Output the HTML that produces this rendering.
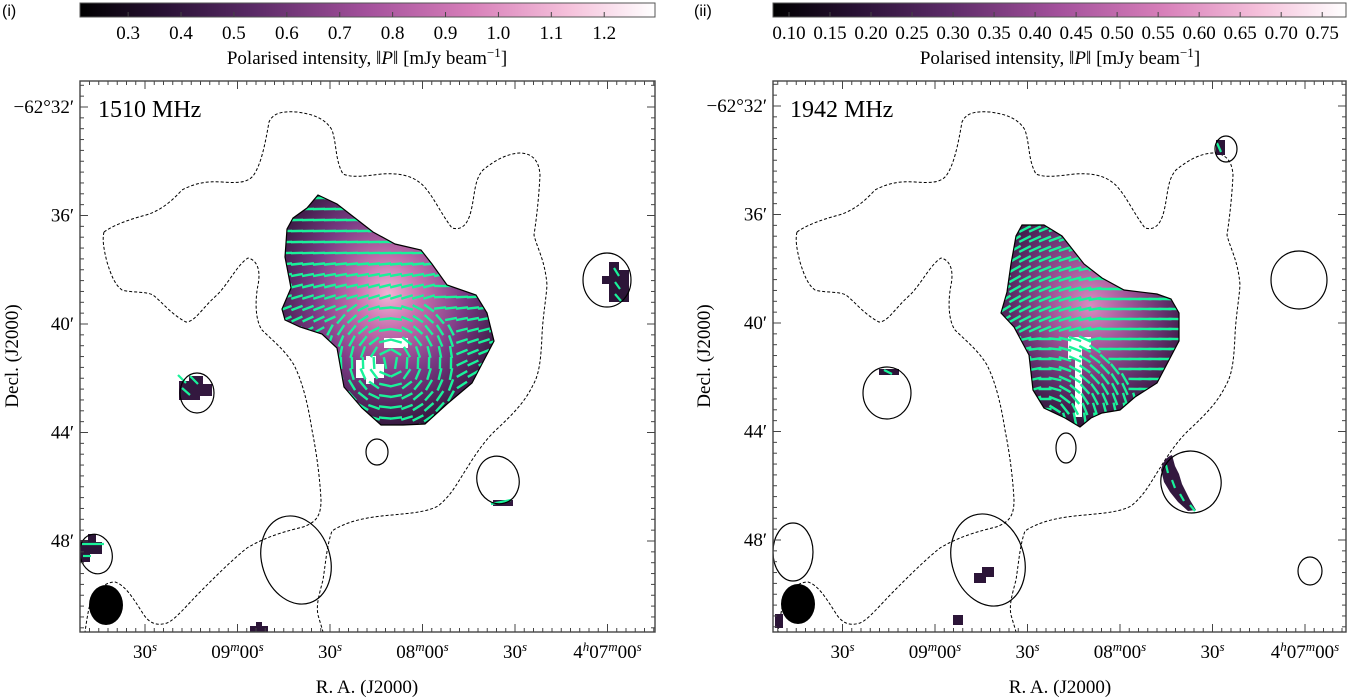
<!DOCTYPE html>
<html><head><meta charset="utf-8"><style>
html,body{margin:0;padding:0;background:#fff;}
svg{display:block;font-family:"Liberation Serif",serif;}
</style></head><body>
<svg id="fig" width="1349" height="699" viewBox="0 0 1349 699" xmlns="http://www.w3.org/2000/svg">
<defs>
<linearGradient id="cmap" x1="0" x2="1" y1="0" y2="0">
<stop offset="0" stop-color="#000000"/><stop offset="0.15" stop-color="#2a1236"/><stop offset="0.3" stop-color="#5a2a66"/><stop offset="0.5" stop-color="#a4519c"/><stop offset="0.68" stop-color="#d77fb9"/><stop offset="0.85" stop-color="#f5c1db"/><stop offset="1" stop-color="#ffffff"/>
</linearGradient>
<radialGradient id="blob1" cx="0.5" cy="0.43" r="0.6">
<stop offset="0" stop-color="#f2b3d5"/><stop offset="0.25" stop-color="#c870ae"/><stop offset="0.6" stop-color="#7a3a84"/><stop offset="1" stop-color="#2e1538"/>
</radialGradient>
<radialGradient id="blob2" cx="0.5" cy="0.4" r="0.6">
<stop offset="0" stop-color="#d98bc0"/><stop offset="0.35" stop-color="#a4569a"/><stop offset="0.7" stop-color="#62306c"/><stop offset="1" stop-color="#2e1538"/>
</radialGradient>
<clipPath id="ax1"><rect x="80" y="81" width="575" height="551"/></clipPath>
<clipPath id="ax2"><rect x="773" y="81" width="573" height="551"/></clipPath>
<clipPath id="b1c"><path id="b1p" d="M318,195 L337,204 L355,218 L373,232 L395,244 L421,250 L432,264 L447,285 L476,295 L487,313 L494,341 L483,362 L472,383 L447,404 L425,424 L403,425 L381,425 L362,408 L344,387 L337,348 L322,334 L300,327 L285,320 L282,309 L291,288 L285,257 L287,229 L293,218 L307,208 Z"/></clipPath>
<clipPath id="b2c"><path id="b2p" d="M1022,225 L1044,225 L1062,236 L1084,264 L1102,278 L1124,290 L1157,294 L1171,299 L1179,313 L1179,341 L1168,362 L1157,383 L1135,397 L1120,410 L1102,413 L1091,418 L1080,427 L1065,418 L1044,408 L1033,390 L1029,355 L1014,327 L1001,313 L1007,292 L1011,264 L1016,236 Z"/></clipPath>
</defs>

<text x="2" y="16" font-family="Liberation Sans, sans-serif" font-size="16">(i)</text>
<text x="694" y="16" font-family="Liberation Sans, sans-serif" font-size="16">(ii)</text>

<rect x="80" y="3" width="575" height="14" fill="url(#cmap)" stroke="#555" stroke-width="1"/>
<rect x="773" y="3" width="573" height="14" fill="url(#cmap)" stroke="#555" stroke-width="1"/>
<g id="cb1ticks"></g>
<g id="cb2ticks"></g>
<text x="367" y="64" font-size="19" text-anchor="middle">Polarised intensity, ‖<tspan font-style="italic">P</tspan>‖ [mJy beam<tspan dy="-7" font-size="13">−1</tspan><tspan dy="7">]</tspan></text>
<text x="1060" y="64" font-size="19" text-anchor="middle">Polarised intensity, ‖<tspan font-style="italic">P</tspan>‖ [mJy beam<tspan dy="-7" font-size="13">−1</tspan><tspan dy="7">]</tspan></text>

<!-- Panel 1 -->
<g clip-path="url(#ax1)">
<use href="#b1p" fill="url(#blob1)"/>
<path d="M356,360 h10 v-4 h10 v8 h8 v14 h-10 v6 h-8 v-6 h-10 z" fill="#fff"/>
<path d="M384,338 h24 v10 h-24 z" fill="#fff"/>
<g id="vec1" clip-path="url(#b1c)"></g>
<use href="#b1p" fill="none" stroke="#000" stroke-width="1.2"/>
<g transform="translate(-693 0)" fill="none" stroke="#000" stroke-width="1" stroke-dasharray="3,2">
<use href="#dashA"/><use href="#dashB"/>
</g>
<path d="M179,381 h10 v-5 h14 v8 h9 v12 h-12 v4 h-21 z" fill="#33183f"/>
<line x1="178" y1="375" x2="186" y2="383" stroke="#19f29a" stroke-width="2.2"/><line x1="190" y1="376" x2="198" y2="384" stroke="#19f29a" stroke-width="2.2"/><line x1="182" y1="388" x2="190" y2="395" stroke="#19f29a" stroke-width="2.2"/>
<ellipse cx="197" cy="393" rx="17" ry="20" fill="none" stroke="#000" stroke-width="1.2"/>
<ellipse cx="377" cy="452" rx="11" ry="13" fill="none" stroke="#000" stroke-width="1.2"/>
<rect x="493" y="500" width="20" height="6" fill="#33183f"/><line x1="491" y1="504" x2="511" y2="500" stroke="#19f29a" stroke-width="2.2"/>
<ellipse cx="498" cy="480" rx="21" ry="24" transform="rotate(-15 498 480)" fill="none" stroke="#000" stroke-width="1.2"/>
<path d="M609,262 h10 v8 h10 v32 h-20 v-18 h-7 v-8 h7 z" fill="#2c1538"/>
<line x1="614" y1="268" x2="619" y2="276" stroke="#19f29a" stroke-width="2.2"/><line x1="615" y1="282" x2="620" y2="289" stroke="#19f29a" stroke-width="2.2"/><line x1="615" y1="294" x2="621" y2="301" stroke="#19f29a" stroke-width="2.2"/>
<ellipse cx="607" cy="280" rx="24" ry="27" fill="none" stroke="#000" stroke-width="1.2"/>
<path d="M80,540 h8 v-6 h8 v8 h6 v12 h-12 v8 h-10 z" fill="#2c1538"/>
<line x1="82" y1="544" x2="104" y2="544" stroke="#19f29a" stroke-width="2.2"/><line x1="83" y1="556" x2="91" y2="556" stroke="#19f29a" stroke-width="2.2"/>
<ellipse cx="96" cy="554" rx="16" ry="20" transform="rotate(-15 96 554)" fill="none" stroke="#000" stroke-width="1.2"/>
<ellipse cx="296" cy="560" rx="34" ry="45" transform="rotate(-18 296 560)" fill="none" stroke="#000" stroke-width="1.2"/>
<ellipse cx="106" cy="605" rx="17" ry="20" fill="#000"/>
<path d="M250,626 h6 v-4 h6 v4 h6 v10 h-18 z" fill="#2c1538"/>
</g>

<!-- Panel 2 -->
<g clip-path="url(#ax2)">
<use href="#b2p" fill="url(#blob2)"/>
<path d="M1068,337 h23 v12 h-9 v68 h-7 v-58 h-7 z" fill="#fff"/>
<g id="vec2" clip-path="url(#b2c)"></g>
<use href="#b2p" fill="none" stroke="#000" stroke-width="1.2"/>
<g fill="none" stroke="#000" stroke-width="1" stroke-dasharray="3,2">
<path id="dashA" d="M797,232 C795,240 797,250 800,262 C804,275 808,285 815,290 C825,293 838,291 846,295 C855,302 865,315 879,322 C888,322 895,308 910,295 C922,283 930,265 941,258 C950,260 954,270 951,285 C948,300 948,320 955,330 C965,340 978,350 987,365 C996,383 1001,405 1005,430 C1010,455 1013,480 1014,500 C1014,515 1010,522 996,527 C980,531 960,536 940,548 C925,560 910,575 895,590 C880,605 868,620 860,623 C850,626 842,624 835,612 C826,598 818,585 808,582 C795,582 786,595 782,608 C780,618 779,625 778,632"/>
<path id="dashB" d="M797,232 C805,226 820,220 839,215 C852,211 862,204 875,190 C888,183 900,181 915,182 C930,183 940,183 946,176 C954,165 958,145 962,122 C966,113 975,111 990,112 C1005,114 1018,118 1025,130 C1030,145 1028,160 1036,174 C1045,178 1058,176 1075,174 C1090,173 1108,174 1120,190 C1128,200 1135,215 1145,228 C1152,230 1160,228 1164,211 C1168,195 1167,180 1176,170 C1188,160 1200,154 1212,153 C1225,153 1232,160 1233,175 C1232,195 1230,215 1227,235 C1230,248 1238,260 1240,285 C1239,300 1236,315 1235,335 C1234,360 1232,375 1226,385 C1218,402 1205,415 1190,429 C1178,440 1168,455 1160,468 C1152,480 1145,495 1131,506 C1120,512 1105,513 1085,515 C1060,517 1040,521 1025,531 C1020,545 1019,560 1016,580 C1012,595 1009,605 1011,615 C1013,622 1015,628 1016,632"/>
</g>
<path d="M1216,140 h9 v15 h-9 z" fill="#2c1538"/><line x1="1217" y1="143" x2="1221" y2="152" stroke="#19f29a" stroke-width="2.2"/>
<ellipse cx="1226" cy="149" rx="11" ry="13" fill="none" stroke="#000" stroke-width="1.2"/>
<rect x="879" y="369" width="20" height="6" fill="#2c1538"/><line x1="884" y1="370" x2="892" y2="374" stroke="#19f29a" stroke-width="2.2"/>
<ellipse cx="887" cy="393" rx="24" ry="26" fill="none" stroke="#000" stroke-width="1.2"/>
<ellipse cx="1066" cy="448" rx="10" ry="15" fill="none" stroke="#000" stroke-width="1.2"/>
<ellipse cx="1299" cy="280" rx="28" ry="29" fill="none" stroke="#000" stroke-width="1.2"/>
<path d="M1161,470 C1163,462 1166,457 1172,455 L1175,466 L1179,474 L1182,484 L1186,492 L1190,500 L1196,510 L1188,511 L1178,502 L1170,492 L1164,482 Z" fill="#33183f"/>
<line x1="1166" y1="465" x2="1168" y2="473" stroke="#19f29a" stroke-width="2.2"/><line x1="1172" y1="480" x2="1175" y2="488" stroke="#19f29a" stroke-width="2.2"/><line x1="1180" y1="494" x2="1184" y2="501" stroke="#19f29a" stroke-width="2.2"/><line x1="1190" y1="505" x2="1195" y2="511" stroke="#19f29a" stroke-width="2.2"/>
<ellipse cx="1191" cy="482" rx="30" ry="31" transform="rotate(-20 1191 482)" fill="none" stroke="#000" stroke-width="1.2"/>
<ellipse cx="1310" cy="571" rx="12" ry="14" fill="none" stroke="#000" stroke-width="1.2"/>
<ellipse cx="988" cy="560" rx="36" ry="47" transform="rotate(-18 988 560)" fill="none" stroke="#000" stroke-width="1.2"/>
<path d="M974,573 h8 v-6 h12 v10 h-8 v6 h-12 z" fill="#2c1538"/>
<rect x="953" y="615" width="10" height="10" fill="#2c1538"/>
<ellipse cx="793" cy="552" rx="20" ry="29" fill="none" stroke="#000" stroke-width="1.2"/>
<ellipse cx="798" cy="604" rx="17" ry="20" fill="#000"/>
<path d="M775,614 h8 v14 h-8 z" fill="#2c1538"/>
</g>

<rect x="80" y="81" width="575" height="551" fill="none" stroke="#444" stroke-width="1.4"/>
<rect x="773" y="81" width="573" height="551" fill="none" stroke="#444" stroke-width="1.4"/>
<g id="ticks" stroke="#444" stroke-width="1"></g>
<g id="labels" font-size="19"></g>

<text x="98" y="117" font-size="24">1510 MHz</text>
<text x="790" y="117" font-size="24">1942 MHz</text>

<text x="367" y="693" font-size="19" text-anchor="middle">R. A. (J2000)</text>
<text x="1060" y="693" font-size="19" text-anchor="middle">R. A. (J2000)</text>
<text transform="translate(18 356) rotate(-90)" font-size="19" text-anchor="middle">Decl. (J2000)</text>
<text transform="translate(710 356) rotate(-90)" font-size="19" text-anchor="middle">Decl. (J2000)</text>
</svg>
<script>
const NS="http://www.w3.org/2000/svg";
const cb1Ticks=[0.3,0.4,0.5,0.6,0.7,0.8,0.9,1.0,1.1,1.2];
const cb1Range=[0.209,1.296];
const cb2Ticks=[0.10,0.15,0.20,0.25,0.30,0.35,0.40,0.45,0.50,0.55,0.60,0.65,0.70,0.75];
const cb2Range=[0.0805,0.779];
const raLabels=["30","09","30","08","30","07"];
const decLabels=["−62°32′","36′","40′","44′","48′"];
const decValues=[32,36,40,44,48];
const raValues=[30,60,90,120,150,180];

function mk(tag,attrs,parent){const e=document.createElementNS(NS,tag);for(const k in attrs)e.setAttribute(k,attrs[k]);parent.appendChild(e);return e;}

function colorbar(gid,ticks,range,x0,w,dec){
  const g=document.getElementById(gid);
  const sx=v=>x0+(v-range[0])/(range[1]-range[0])*w;
  ticks.forEach(v=>{
    const l=mk("line",{x1:sx(v),x2:sx(v),y1:17,y2:12,stroke:"#444"},g);
    
    
    const t=mk("text",{x:sx(v),y:39,"text-anchor":"middle","font-size":"19"},g);
    
    
    t.textContent=v.toFixed(dec);
  });
}
colorbar("cb1ticks",cb1Ticks,cb1Range,80,575,1);
colorbar("cb2ticks",cb2Ticks,cb2Range,773,573,2);

const panels=[{x0:80,x1:655,raRef:607.5,decRef:107},{x0:773,x1:1346,raRef:1305,decRef:106}];
const raScale=92.5/30, decScale=108.5/4;
const tg=document.getElementById("ticks"), lg=document.getElementById("labels");
panels.forEach((p,pi)=>{
  const rx=s=>p.raRef-(180-s)*raScale;
  const dy=m=>p.decRef+(m-32)*decScale;
  for(let s=-30;s<=200;s+=3){const x=rx(s);if(x<p.x0+1||x>p.x1-1)continue;const maj=s%30===0;const L=maj?8:4;
    mk("line",{x1:x,x2:x,y1:632,y2:632-L},tg);mk("line",{x1:x,x2:x,y1:81,y2:81+L},tg);}
  for(let m=28;m<=54;m+=0.4){const y=dy(m);if(y<82||y>631)continue;const maj=Math.abs(m-Math.round(m))<0.01&&Math.round(m)%4===0;const L=maj?8:4;
    mk("line",{x1:p.x0,x2:p.x0+L,y1:y,y2:y},tg);mk("line",{x1:p.x1,x2:p.x1-L,y1:y,y2:y},tg);}
  decValues.forEach((m,i)=>{const t=mk("text",{x:p.x0-6,y:dy(m)+6,"text-anchor":"end"},lg);
    
    
    t.textContent=decLabels[i];});
  raValues.forEach((s,i)=>{const x=rx(s);const t=mk("text",{x:x,y:658,"text-anchor":"middle"},lg);
    
    
    const lab=raLabels[i];
    if(lab==="30"){t.innerHTML='30<tspan dy="-7" font-size="13" font-style="italic">s</tspan>';}
    else if(lab==="07"){t.innerHTML='4<tspan dy="-7" font-size="13" font-style="italic">h</tspan><tspan dy="7">07</tspan><tspan dy="-7" font-size="13" font-style="italic">m</tspan><tspan dy="7">00</tspan><tspan dy="-7" font-size="13" font-style="italic">s</tspan>';}
    else {t.innerHTML=lab+'<tspan dy="-7" font-size="13" font-style="italic">m</tspan><tspan dy="7">00</tspan><tspan dy="-7" font-size="13" font-style="italic">s</tspan>';}
  });
});

function vectors(gid,bx,by,w,h,step,cx,cy,rad,minY,tiltFn,len){
  const g=document.getElementById(gid);
  for(let y=by;y<=by+h;y+=step){for(let x=bx;x<=bx+w;x+=step){
    let a;
    const d=Math.hypot(x-cx,y-cy);
    if(d<rad&&y>minY){a=Math.atan2(y-cy,x-cx)+Math.PI/2;}
    else{a=tiltFn(x,y);}
    const dx=Math.cos(a)*len/2, dyv=Math.sin(a)*len/2;
    mk("line",{x1:x-dx,y1:y-dyv,x2:x+dx,y2:y+dyv,stroke:"#19f29a","stroke-width":"2.4"},g);
  }}
}
vectors("vec1",286,198,212,232,11,390,362,72,300,(x,y)=>-0.02-Math.max(0,(y-250))*0.006+(x>430?0.25:0)*(y>285?1:0),12);
vectors("vec2",1005,229,178,200,10,1045,425,95,335,(x,y)=>x<1100?-0.55+(x-1005)*0.004:0.02,13);
</script>
</body></html>
